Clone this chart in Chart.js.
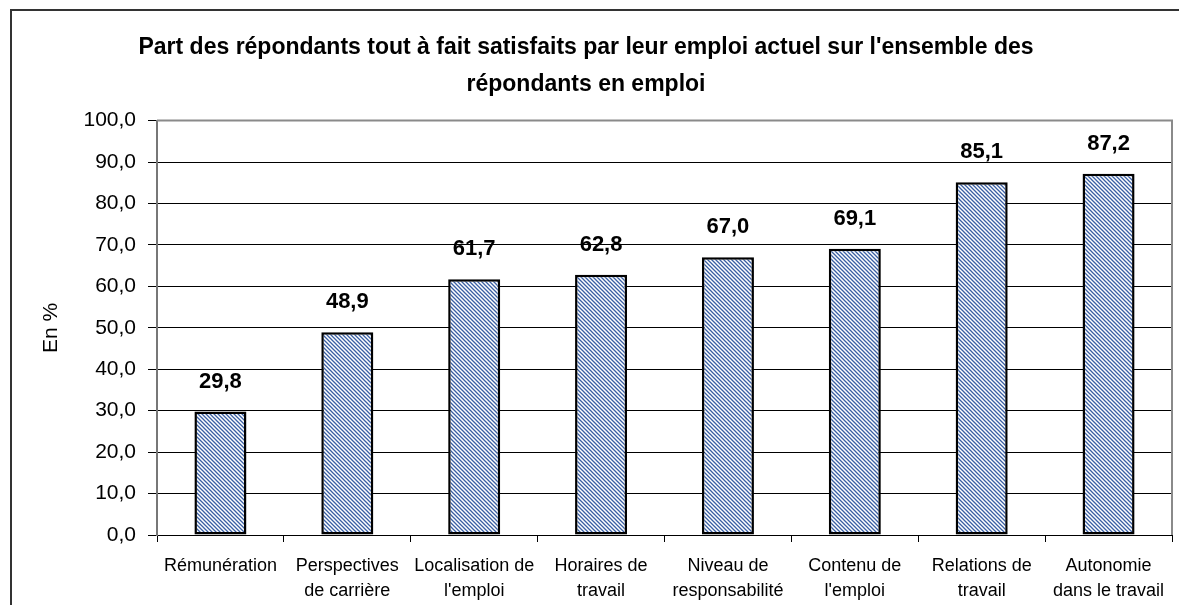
<!DOCTYPE html>
<html>
<head>
<meta charset="utf-8">
<script src="https://cdn.jsdelivr.net/npm/chart.js@4"></script>
<style>
  html, body { margin: 0; padding: 0; background: #fff; }
  #wrap { width: 1179px; height: 605px; }
</style>
</head>
<body>
<div id="wrap"><canvas id="chart"></canvas></div>
<script>
// Categories (x axis, multi-line labels)
const categories = [
  ['Rémunération'],
  ['Perspectives', 'de carrière'],
  ['Localisation de', "l'emploi"],
  ['Horaires de', 'travail'],
  ['Niveau de', 'responsabilité'],
  ['Contenu de', "l'emploi"],
  ['Relations de', 'travail'],
  ['Autonomie', 'dans le travail'],
];

// Share of respondents fully satisfied (%)
const satisfied = [29.8, 48.9, 61.7, 62.8, 67.0, 69.1, 85.1, 87.2];

const titleLines = [
  "Part des répondants tout à fait satisfaits par leur emploi actuel sur l'ensemble des",
  'répondants en emploi',
];
const yAxisTitle = 'En %';

const SANS = '"Liberation Sans", Arial, sans-serif';

const frenchNum = (v) => v.toFixed(1).replace('.', ',');

// Hatched fill for the bars
const hatch = document.createElement('canvas');
hatch.width = 4;
hatch.height = 4;
const hg = hatch.getContext('2d');
hg.fillStyle = '#ffffff';
hg.fillRect(0, 0, 4, 4);
hg.strokeStyle = '#3a5fa3';
hg.lineWidth = 1.3;
hg.beginPath();
hg.moveTo(-1, -1); hg.lineTo(5, 5);
hg.moveTo(3, -1); hg.lineTo(5, 1);
hg.moveTo(-1, 3); hg.lineTo(1, 5);
hg.stroke();
const hatchPattern = hg.createPattern(hatch, 'repeat');

// Value labels above bars + frame decorations
const decor = {
  id: 'decor',
  afterDatasetsDraw(chart) {
    const ctx = chart.ctx;
    const meta = chart.getDatasetMeta(0);
    ctx.save();
    ctx.font = 'bold 22px ' + SANS;
    ctx.fillStyle = '#000';
    ctx.textAlign = 'center';
    ctx.textBaseline = 'middle';
    meta.data.forEach((bar, i) => {
      ctx.fillText(frenchNum(satisfied[i]), bar.x, bar.y - 30);
    });
    ctx.restore();
  },
  afterDraw(chart) {
    const ctx = chart.ctx;
    const a = chart.chartArea;
    ctx.save();
    // grey plot-area border (top, right)
    ctx.strokeStyle = '#8a8a8a';
    ctx.lineWidth = 2;
    ctx.beginPath();
    ctx.moveTo(a.left, a.top);
    ctx.lineTo(a.right, a.top);
    ctx.lineTo(a.right, a.bottom);
    ctx.stroke();
    // outer frame (cropped at right and bottom)
    ctx.strokeStyle = '#333';
    ctx.lineWidth = 2;
    ctx.strokeRect(11, 10, chart.width + 20, chart.height + 20);
    ctx.restore();
  },
};

new Chart(document.getElementById('chart'), {
  type: 'bar',
  plugins: [decor],
  data: {
    labels: categories,
    datasets: [{
      data: satisfied,
      backgroundColor: hatchPattern,
      borderColor: '#000',
      borderWidth: 2.5,
      borderSkipped: false,
      categoryPercentage: 1,
      barPercentage: 0.41,
    }],
  },
  options: {
    responsive: true,
    maintainAspectRatio: false,
    animation: false,
    devicePixelRatio: 1,
    layout: { padding: { left: 0, right: 7, top: 0, bottom: 0 } },
    plugins: {
      legend: { display: false },
      tooltip: { enabled: false },
      title: {
        display: true,
        text: titleLines,
        color: '#000',
        font: { family: SANS, size: 23, weight: 'bold', lineHeight: 1.6 },
        padding: { top: 29, bottom: 18 },
      },
    },
    scales: {
      x: {
        grid: {
          offset: true,
          drawOnChartArea: false,
          drawTicks: true,
          tickLength: 7,
          color: '#000',
        },
        border: { color: '#000', width: 1 },
        ticks: {
          color: '#000',
          padding: 11,
          maxRotation: 0,
          autoSkip: false,
          font: { family: SANS, size: 18, lineHeight: 1.42 },
        },
        afterFit(scale) { scale.height = 70; },
      },
      y: {
        min: 0,
        max: 100,
        ticks: {
          stepSize: 10,
          color: '#000',
          padding: 12,
          font: { family: SANS, size: 21 },
          callback: (v) => frenchNum(v),
        },
        grid: { color: '#000', lineWidth: 1, tickLength: 9 },
        border: { color: '#777', width: 2 },
        title: {
          display: true,
          text: yAxisTitle,
          color: '#000',
          padding: { top: 39, bottom: 0 },
          font: { family: SANS, size: 21 },
        },
        afterFit(scale) { scale.width = 157; },
      },
    },
  },
});
</script>
</body>
</html>
